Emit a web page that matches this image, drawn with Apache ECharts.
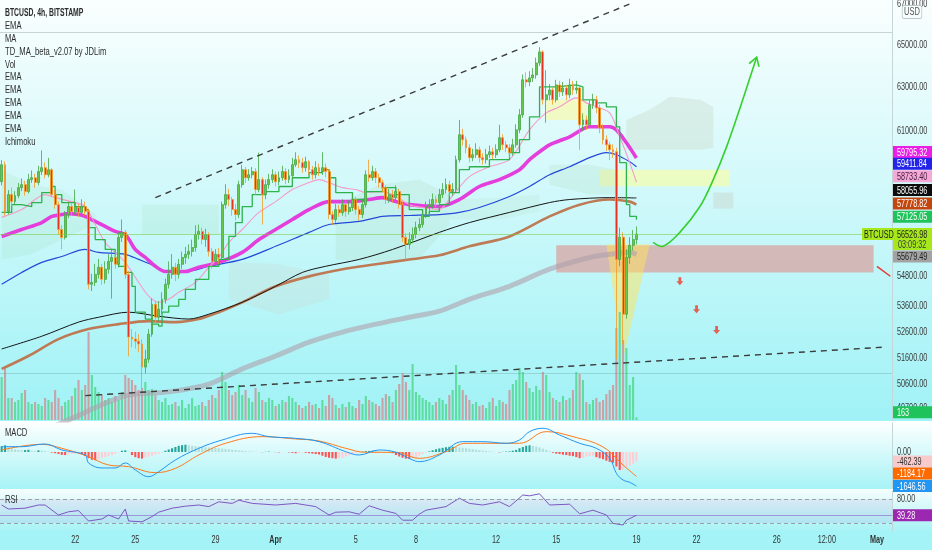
<!DOCTYPE html>
<html><head><meta charset="utf-8">
<script src="https://cdn.jsdelivr.net/npm/echarts@6/dist/echarts.min.js"></script>
<style>html,body{margin:0;padding:0;background:#a4f3f6;overflow:hidden}#c{width:932px;height:550px}</style>
</head><body><div id="c"></div>
<script>
const FONT = "'Liberation Sans',Arial,sans-serif";
const SLOTS = 267;
const timeLabels = {22:'22',40:'25',64:'29',82:'Apr',106:'5',124:'8',148:'12',166:'15',190:'19',208:'22',232:'26',247:'12:00',262:'May'};
const firstOpen = 58760;
const closes = [59500,57480,58200,57900,58160,58500,58630,58330,58850,58930,
58720,59200,59370,59060,59280,58200,57770,56720,56390,57350,
57690,57480,57650,57440,57690,57480,54470,54550,54870,55160,
54670,55080,55400,55560,55280,56390,56600,54870,52390,52310,
52230,52120,51240,51540,52500,53670,53160,53480,53870,54470,
54870,55160,54870,55280,55560,55690,55810,55970,56510,56640,
56300,56510,55810,55400,55690,55560,57770,58200,57990,57560,
57350,58630,59280,58930,59060,59200,58420,58850,58200,58630,
58850,59060,58760,58930,59200,58850,59020,59500,59720,59590,
59370,59630,59280,59060,59370,59200,59370,59200,57350,57140,
57560,57430,57770,57480,57650,57990,57560,57350,57770,59060,
58930,59200,58930,58720,58500,57990,58200,58070,58330,57770,
56390,56100,56300,56510,56800,56930,57350,57690,57770,57990,
57860,58200,58420,58630,58330,58420,59720,60830,60610,60250,
59810,59940,60160,59810,59720,59940,60070,59940,60160,60700,
60380,60250,60030,60380,61050,61730,63350,63250,63440,63580,
64140,64670,62420,62650,62880,62420,63110,62790,62970,62650,
63110,62880,62970,61280,61500,61280,62190,62420,62050,61140,
60610,60380,60160,60070,55480,56400,53280,55560,56060,56300,
56526.98];
const highs = [59700,59650,58400,58500,58350,58700,58900,58800,59100,59250,
59100,59450,60130,59600,59800,59350,58400,57900,56900,57500,
57900,57850,58420,57800,58000,57900,57600,54900,55300,55500,
55300,55400,55700,55900,55800,56600,57140,56700,55000,52700,
52600,52500,52300,51900,52700,53900,53800,53800,54150,54700,
55400,55700,55350,55500,55800,56000,56100,56300,56900,56930,
56800,56750,56600,55950,55900,55950,57900,58650,58450,58100,
57800,58800,59500,59400,59300,59400,59350,60030,58950,58850,
59100,59300,59200,59200,59450,59350,59300,59800,60050,59900,
59800,59850,59700,59450,59650,59550,60050,59550,59300,57500,
57800,57750,58000,57900,57950,58200,58100,57700,58000,59250,
59720,59450,59350,59100,58850,58600,58450,58400,58600,58450,
57900,56550,56600,56800,57050,57200,57550,57900,58000,58250,
58150,58450,58700,58900,58800,58700,59900,61500,61100,60750,
60400,60200,60450,60300,60000,60200,60350,60250,60400,61280,
60850,60550,60400,60650,61300,62000,63600,63700,63750,63900,
64400,64895,64750,63800,63150,63000,63350,63300,63250,63100,
63400,63300,63300,63050,61800,61700,62400,62700,62600,62200,
61300,60800,60500,60400,60250,56800,56600,55900,56400,56700,
56850];
const lows = [58600,57300,57350,57700,57750,58050,58350,58150,58250,58700,
58500,58600,59050,58900,58950,58100,57600,56500,55890,56300,
57200,57300,57350,57250,57300,57300,54270,54200,54400,54700,
54450,54500,54900,53900,55100,55150,56200,54700,51650,52000,
51950,51800,50450,51000,51400,52400,52900,53000,53300,53700,
54300,54700,54600,54700,55100,55300,55500,55600,55800,56300,
56100,56000,55600,55100,55200,55300,55450,57600,57700,57300,
57100,57200,58500,58700,58800,58900,58200,58300,56930,58000,
58450,58700,58550,58600,58800,58650,58700,58900,59400,59350,
59150,59200,59050,58850,58900,59000,59050,58950,57150,56900,
57000,57250,57300,57250,57350,57500,57350,57100,57200,57650,
58750,58800,58700,58500,58300,57800,57850,57850,57950,57600,
56200,55480,55900,56150,56350,56650,56800,57200,57500,57600,
57650,57700,58050,58250,58150,58150,58300,59600,60350,60000,
59600,59650,59800,59600,59500,59550,59800,59750,59800,60050,
60150,60050,59800,59900,60250,60900,61600,63000,63050,63250,
63400,64000,62200,61370,62400,62200,62300,62550,62600,62400,
62500,62650,62700,60160,61000,61050,61150,62000,61800,60900,
60400,60100,59700,59800,51550,55200,52100,53100,55300,55850,
56100];
const volumes = [2580,3120,1320,1320,1080,1200,1620,1800,1080,960,
1080,960,840,1320,1200,1080,1800,1320,840,1080,
1200,1440,1920,2400,1800,2100,5280,2700,1980,1680,
1500,1200,1320,1080,1440,1200,1680,2700,2520,2400,
2100,1800,1920,2280,1800,1860,1500,1200,1080,1320,
900,960,1080,840,1200,720,960,1320,840,900,
1080,840,1200,1500,1320,1800,2880,2280,1800,1500,
1680,2100,1500,1800,1320,1080,1920,1680,1200,1080,
1320,1200,840,960,1200,1080,1440,1320,1080,900,
720,840,1080,900,960,720,1200,840,1500,1320,
900,720,960,780,1080,840,720,1200,960,1440,
1200,1080,960,840,1320,1560,1440,1080,1800,2160,
2820,2280,1800,3360,1680,1500,1320,1200,1080,900,
1080,1320,1200,960,1500,1800,3300,2100,1800,1500,
1200,960,1080,840,900,720,1080,1320,840,1200,
1080,960,1800,2160,2400,3120,2880,2280,1920,1680,
2040,1800,2880,2700,1680,1320,1200,1080,1440,1200,
1320,1800,2880,2760,2400,1080,960,1200,1320,1080,
1200,1560,1800,2100,5520,6480,4800,4320,2100,2580,
163];
const macdHist = [280,320,250,180,
120,100,80,90,110,60,40,80,70,50,
20,-30,-60,-100,-140,-150,-120,-90,-80,-60,-100,
-200,-300,-380,-400,-350,-300,
-250,-200,-150,-80,-20,60,
80,20,
-150,-250,-300,-320,-280,
-230,-180,-130,-80,-30,
60,120,180,240,300,330,350,330,300,280,
260,240,230,220,200,190,180,170,150,130,110,100,80,60,40,30,
20,10,0,-10,10,20,10,-10,-20,-10,0,-20,
-40,-60,-50,-30,-40,-60,-80,-100,-120,
-180,-240,-280,-300,-320,-300,-280,
-220,-160,-110,-60,-20,
20,40,50,60,40,20,10,
0,-20,-60,
-150,-220,-280,-320,-330,-300,-260,
-180,-100,-40,
30,80,130,170,200,230,250,260,240,220,
200,180,160,140,110,90,70,50,
30,20,0,-20,10,20,30,60,100,
180,240,300,320,300,260,220,
160,100,40,
-40,-80,-100,-130,-150,-180,-200,
-250,-300,-280,-230,-200,-180,
-250,-300,-350,-420,-480,-520,
-700,-870,-850,
-750,-650,-560,-462.39];
const macdLine = [[0,256],[6,256],[13,386],[18,97],[25,-145],[26,-531],[30,-773],[34,-773],[37,-531],[40,-870],[44,-1192],[47,-950],[52,-386],[59,177],[66,580],[75,902],[80,741],[88,660],[95,500],[103,16],[107,-145],[113,97],[118,-16],[123,-386],[125,-467],[131,-145],[138,500],[144,500],[151,419],[155,580],[158,983],[162,1145],[167,821],[173,419],[178,177],[182,-306],[184,-1031],[186,-1353],[188,-1466],[190,-1646.56]];
const signalLine = [[0,97],[12,370],[18,177],[26,-225],[32,-628],[38,-708],[46,-998],[52,-789],[59,-145],[67,419],[78,741],[88,628],[95,531],[103,177],[109,-16],[118,-16],[125,-306],[133,16],[139,419],[155,419],[163,983],[171,741],[180,242],[186,-628],[190,-1184.17]];
const rsiLine = [[0,65],[2,55],[7,57],[11,65],[13,65],[17,40],[20,48],[23,51],[26,25],[30,30],[32,40],[35,30],[37,55],[38,25],[42,23],[45,36],[47,47],[51,57],[55,62],[59,65],[62,61],[65,73],[69,69],[71,77],[75,69],[82,65],[88,69],[94,61],[98,40],[100,47],[104,48],[107,42],[110,63],[114,52],[118,44],[120,27],[123,27],[125,42],[127,52],[133,61],[137,82],[140,69],[144,65],[149,73],[152,61],[156,90],[158,88],[161,93],[164,65],[170,67],[173,43],[177,52],[181,40],[183,19],[186,15],[187,27],[190,39.28]];
const emaMagenta = [[0,56430],[6,56720],[12,57010],[15,57270],[18,57350],[20,57390],[23,57350],[25,57270],[28,57060],[31,56850],[34,56640],[37,56510],[40,55890],[43,55560],[46,55200],[49,54990],[55,54990],[59,55160],[65,55360],[72,55770],[77,56300],[82,56720],[87,57140],[92,57560],[98,57900],[104,57900],[110,57990],[114,58070],[118,57900],[122,57770],[131,57690],[137,57990],[143,58550],[149,58850],[155,59280],[158,59720],[161,60070],[164,60380],[170,60740],[176,61190],[182,61190],[184,61050],[187,60470],[190,59795.32]];
const emaBlue = [[0,54470],[6,54950],[12,55360],[18,55600],[25,55890],[29,55770],[37,55690],[41,55480],[46,55200],[49,54990],[55,54990],[62,55200],[72,55480],[82,56020],[92,56600],[98,56930],[107,57060],[114,57270],[122,57310],[131,57350],[137,57440],[143,57650],[152,58120],[158,58550],[164,59060],[170,59410],[176,59810],[181,60030],[184,59940],[188,59630],[190,59411.84]];
const emaPink = [[0,57230],[6,57560],[13,58200],[16,58070],[22,57860],[25,57690],[28,56930],[31,56180],[34,55770],[37,55360],[41,54550],[44,54000],[47,53750],[50,53870],[53,54150],[58,54550],[62,55160],[65,55560],[68,56180],[72,56720],[77,57440],[82,57900],[87,58420],[92,58720],[95,58850],[98,58720],[102,58500],[106,58420],[109,58290],[114,58330],[118,58120],[122,57770],[126,57650],[131,57560],[134,57990],[140,58980],[146,59410],[152,59720],[158,61050],[163,61820],[167,62100],[172,62510],[175,62280],[178,62100],[182,61820],[185,60740],[188,59590],[190,58733.40]];
const tenkan = [[0,57440],[3,57770],[6,57690],[9,57860],[12,58290],[15,58550],[16,58200],[18,57860],[22,57690],[25,57560],[26,56800],[28,56300],[31,55890],[34,55360],[35,55200],[37,54950],[39,54390],[40,53360],[43,53090],[45,52890],[47,52810],[48,53360],[50,53600],[53,53870],[55,54270],[58,54670],[62,55200],[65,55480],[68,56430],[70,57010],[72,57690],[75,58200],[79,58330],[83,58550],[87,58930],[92,59150],[96,59280],[98,58930],[100,58290],[105,57990],[109,58330],[114,58500],[118,58200],[122,57560],[126,57270],[128,57480],[131,57770],[134,58290],[137,59280],[140,59410],[146,59720],[152,60030],[155,60610],[158,61640],[161,63020],[166,63110],[172,63020],[174,62420],[178,62280],[181,62100],[184,61190],[185,59590],[187,57770],[188,57270],[190,57125.05]];
const ma200 = [[0,51930],[12,52420],[23,52970],[29,53160],[38,53360],[47,53200],[56,53090],[62,53280],[72,53750],[82,54390],[90,54950],[97,55200],[107,55480],[117,55890],[131,56600],[140,57010],[152,57440],[164,57860],[170,57990],[182,58070],[190,58055.96]];
const ema200 = [[0,51170],[8,51660],[17,52310],[26,52700],[35,52890],[44,53010],[52,52970],[59,53090],[65,53360],[72,53750],[82,54390],[92,54790],[102,55080],[112,55280],[122,55480],[131,55650],[140,56020],[152,56430],[164,57270],[173,57770],[182,57990],[188,57900],[190,57778.82]];
const emaGray = [[0,48200],[20,49280],[37,50160],[50,50310],[62,50600],[72,51170],[82,51660],[92,52190],[102,52580],[112,52890],[122,53160],[131,53400],[140,53870],[152,54390],[164,55080],[176,55560],[182,55690],[188,55770],[190,55679.49]];
// Ichimoku cloud bands: [slot, lower, upper]
const clouds = [
 [[0,55480,59280],[9,55690,58630],[18,56300,58420],[28,56930,57350]],
 [[42,56510,57770],[53,56510,57770],[65,56510,57770]],
 [[68,53870,55400],[83,53280,55280],[98,53870,54870]],
 [[100,55480,57770],[113,55400,58630],[125,55480,58850],[134,56930,58200]],
 [[134,57140,57990],[149,57140,58070],[161,57480,58200]],
 [[164,58630,59500],[176,58200,59500],[184,58200,59280]],
 [[187,60160,61500],[194,60160,61960],[200,60160,62560],[209,60160,62420],[213,60250,62100]],
 [[213,57600,58290],[219,57600,58290]]
];
const triangle = [[181,56100],[194,56100],[186,51550]];
const zones = [
 [[166,56060],[261,54950]],
 [[179,59280],[218,58560]],
 [[163,62420],[175,61500]]
];
const upperTrend = [[46,58070],[188,67000]];
const lowerTrend = [[25,50170],[264,52000]];
const redStroke = [[262,55200],[266,54795]];
const greenArrow = [[195,56180],[198,56020],[203,56600],[209,57690],[213,58850],[217,60300],[221,62050],[224,63460],[226,64420]];
const redArrows = [[203,54590],[208,53480],[214,52660]];
const hLines = [65627, 56526.98, 51018];
const priceTicks = [67000,65000,63000,61000,54800,53600,52600,51600,50600,49700];
const tagValues = [59795.32,59411.84,58733.40,58055.96,57778.82,57125.05,55679.49];
const tagStyles = [
 {bg:'#ea1fe6',fg:'#fff',dy:-6},{bg:'#2424e8',fg:'#fff',dy:-3},{bg:'#f6a9d9',fg:'#4a2040',dy:-6},
 {bg:'#0c0c0c',fg:'#fff',dy:-8},{bg:'#c2470f',fg:'#fff',dy:-1},{bg:'#1fc35b',fg:'#fff',dy:-3},
 {bg:'#a3a3a3',fg:'#222',dy:2}];
const lastPrice = 56526.98;
const countdown = '03:09:32';
const lastVolume = 163;
const macdTicks = [0];
const macdTags = [-462.39,-1184.17,-1646.56];
const macdTagStyles = [{bg:'#f9caca',fg:'#333',dy:0},{bg:'#ff6a00',fg:'#fff',dy:-3},{bg:'#2196f3',fg:'#fff',dy:0}];
const rsiTicks = [80];
const rsiLast = 39.28;
const legendLines = ['BTCUSD, 4h, BITSTAMP','EMA','MA','TD_MA_beta_v2.07 by JDLim','Vol','EMA','EMA','EMA','EMA','EMA','Ichimoku'];

const SX = 0.66; // horizontal text compression of the reference
const cats = Array.from({length: SLOTS}, (_, i) => String(i));
const candles = closes.map((c, i) => {
  const o = i ? closes[i-1] : firstOpen;
  return [o, c, lows[i], highs[i]];
});
const volData = volumes.map((v, i) => ({value: v, itemStyle: {color: candles[i][1] >= candles[i][0] ? '#5fdc9f' : '#c7a3a8'}}));
const histData = macdHist.map((v, i) => {
  const p = i ? macdHist[i-1] : v;
  const col = v >= 0 ? (v >= p ? '#26a69a' : '#b2dfdb') : (v <= p ? '#ff5252' : '#ffcdd2');
  return {value: v, itemStyle: {color: col}};
});
const fmt = v => v.toFixed(2);
const txt = (x, y, t, color, opts) => Object.assign({type: 'text', x: x, y: y, scaleX: SX, style: {text: t, fill: color, font: '11px ' + FONT, verticalAlign: 'middle', align: 'left'}}, opts || {});
const box = (x, y, w, h, fill) => ({type: 'rect', shape: {x: x, y: y, width: w, height: h}, style: {fill: fill}});

function tagEls(api, cs, v, text, bg, fg, dy) {
  const xr = cs.x + cs.width;
  const y = api.coord([0, v])[1] + dy;
  return [box(xr + 1, y - 6, 40, 12, bg), txt(xr + 5, y + 0.5, text, fg)];
}
function tickEls(api, cs, v) {
  const xr = cs.x + cs.width;
  return [txt(xr + 5, api.coord([0, v])[1], fmt(v), '#3a3a3a')];
}

const grids = [
  {left: 0, top: 0, width: 892, height: 420},
  {left: 0, top: 300, width: 892, height: 120},
  {left: 0, top: 423, width: 892, height: 65},
  {left: 0, top: 491, width: 892, height: 40}
];
const xAxes = grids.map((g, k) => ({
  type: 'category', gridIndex: k, data: cats, boundaryGap: true,
  axisLine: {show: false}, axisTick: {show: false}, splitLine: {show: false}, axisLabel: {show: false}
}));
const axLine = {show: true, lineStyle: {color: '#c4d6d8', width: 1}};
const yAxes = [
  {type: 'log', logBase: 10, gridIndex: 0, position: 'right', min: 49276, max: 67196, axisLabel: {show: false}, axisTick: {show: false}, splitLine: {show: false}, axisLine: axLine},
  {type: 'value', gridIndex: 1, min: 0, max: 7200, show: false},
  {type: 'value', gridIndex: 2, position: 'right', min: -1740, max: 1400, axisLabel: {show: false}, axisTick: {show: false}, splitLine: {show: false}, axisLine: axLine},
  {type: 'value', gridIndex: 3, position: 'right', min: 0, max: 100, axisLabel: {show: false}, axisTick: {show: false}, splitLine: {show: false}, axisLine: axLine}
];

function lineSeries(data, color, width, z, extra) {
  return Object.assign({type: 'line', xAxisIndex: 0, yAxisIndex: 0, data: data, showSymbol: false, symbol: 'none', smooth: 0.3, z: z, lineStyle: {color: color, width: width}, silent: true}, extra || {});
}
const bgGrad = (a, b) => new echarts.graphic.LinearGradient(0, 0, 0, 1, [{offset: 0, color: a}, {offset: 1, color: b}]);

const option = {
  animation: false,
  backgroundColor: '#a4f3f6',
  textStyle: {fontFamily: FONT},
  grid: grids,
  xAxis: xAxes,
  yAxis: yAxes,
  graphic: {elements: [
    {type: 'rect', z: -10, silent: true, shape: {x: 0, y: 0, width: 932, height: 421}, style: {fill: bgGrad('#fafefe', '#9ff2f6')}},
    {type: 'rect', z: -10, silent: true, shape: {x: 0, y: 421, width: 932, height: 68}, style: {fill: bgGrad('#ffffff', '#a6f3f6')}},
    {type: 'rect', z: -10, silent: true, shape: {x: 0, y: 489, width: 932, height: 42}, style: {fill: bgGrad('#f6fdfd', '#a6f3f6')}},
    {type: 'rect', z: -10, silent: true, shape: {x: 0, y: 531, width: 932, height: 19}, style: {fill: '#a4f3f6'}},
    ...legendLines.map((t, i) => ({type: 'text', z: 50, silent: true, x: 5, y: 12.7 + i * 12.95, scaleX: i === 0 ? 0.62 : 0.69, style: {text: t, fill: '#2c2c2c', font: (i === 0 ? 'bold ' : '') + '11px ' + FONT, verticalAlign: 'middle'}})),
    {type: 'text', z: 50, silent: true, x: 5, y: 433, scaleX: 0.69, style: {text: 'MACD', fill: '#2c2c2c', font: '11px ' + FONT, verticalAlign: 'middle'}},
    {type: 'text', z: 50, silent: true, x: 5, y: 500, scaleX: 0.69, style: {text: 'RSI', fill: '#2c2c2c', font: '11px ' + FONT, verticalAlign: 'middle'}},
    {type: 'text', z: 50, silent: true, x: 912, y: 12, scaleX: 0.75, style: {text: 'USD', fill: '#555', font: '10px ' + FONT, align: 'center', verticalAlign: 'middle', backgroundColor: '#f7fdfd', borderColor: '#b9c9c9', borderWidth: 1, borderRadius: 2, padding: [1, 2]}}
  ]},
  series: [
    {type: 'custom', xAxisIndex: 0, yAxisIndex: 0, z: 1, silent: true, data: [[0, 56000]],
      renderItem: (params, api) => {
        const cols = ['rgba(150,215,165,0.16)','rgba(150,215,165,0.16)','rgba(200,220,210,0.3)','rgba(170,215,180,0.2)','rgba(170,215,180,0.14)','rgba(170,215,180,0.2)','rgba(205,225,212,0.5)','rgba(200,212,205,0.45)'];
        const ch = clouds.map((c, k) => {
          const up = c.map(p => api.coord([p[0], p[2]]));
          const lo = c.map(p => api.coord([p[0], p[1]])).reverse();
          return {type: 'polygon', shape: {points: up.concat(lo)}, style: {fill: cols[k]}};
        });
        ch.push({type: 'polygon', shape: {points: triangle.map(p => api.coord(p))}, style: {fill: 'rgba(255,228,90,0.5)'}});
        return {type: 'group', children: ch};
      }},
    {type: 'bar', xAxisIndex: 1, yAxisIndex: 1, data: volData, barWidth: 2.1, z: 1, silent: true},
    lineSeries(emaGray, 'rgba(175,160,172,0.6)', 5, 2, {
      markArea: {silent: true, data: [
        [{coord: zones[0][0], itemStyle: {color: 'rgba(215,168,165,0.78)'}}, {coord: zones[0][1]}],
        [{coord: zones[1][0], itemStyle: {color: 'rgba(255,255,150,0.55)'}}, {coord: zones[1][1]}],
        [{coord: zones[2][0], itemStyle: {color: 'rgba(255,250,150,0.55)'}}, {coord: zones[2][1]}]
      ]}}),
    lineSeries(ema200, '#bd7a55', 2.6, 3),
    lineSeries(ma200, '#151515', 1, 3),
    lineSeries(emaBlue, '#2448d8', 1.2, 3),
    lineSeries(emaMagenta, '#e43fdc', 3.6, 3),
    lineSeries(emaPink, '#f59cc8', 1.1, 3),
    lineSeries(tenkan, '#2eb34c', 1.3, 3, {smooth: false, step: 'end'}),
    {type: 'candlestick', xAxisIndex: 0, yAxisIndex: 0, data: candles, barWidth: 2.4, z: 4, silent: true,
      itemStyle: {color: '#66c84a', color0: '#e8321e', borderColor: '#45a845', borderColor0: '#f59a23', borderWidth: 0.8},
      markLine: {silent: true, symbol: ['none', 'none'], label: {show: false}, data: [
        {yAxis: hLines[0], lineStyle: {color: 'rgba(150,165,165,0.45)', width: 1, type: 'solid'}},
        {yAxis: hLines[1], lineStyle: {color: 'rgba(120,205,60,0.55)', width: 1, type: 'solid'}},
        {yAxis: hLines[2], lineStyle: {color: 'rgba(100,160,150,0.35)', width: 1, type: 'solid'}},
        [{coord: upperTrend[0], lineStyle: {color: '#3c3c3c', width: 1.4, type: [6, 5]}}, {coord: upperTrend[1]}],
        [{coord: lowerTrend[0], lineStyle: {color: '#3c3c3c', width: 1.4, type: [6, 5]}}, {coord: lowerTrend[1]}],
        [{coord: redStroke[0], lineStyle: {color: '#e53935', width: 1.5, type: 'solid'}}, {coord: redStroke[1]}]
      ]}},
    {type: 'custom', xAxisIndex: 0, yAxisIndex: 0, z: 6, silent: true, data: [[0, 56000]],
      renderItem: (params, api) => {
        const pts = greenArrow.map(p => api.coord(p));
        const n = pts.length, tip = pts[n - 1], prev = pts[n - 2];
        const ang = Math.atan2(tip[1] - prev[1], tip[0] - prev[0]);
        const L = 10, a = 0.55;
        const p1 = [tip[0] - L * Math.cos(ang - a), tip[1] - L * Math.sin(ang - a)];
        const p2 = [tip[0] - L * Math.cos(ang + a), tip[1] - L * Math.sin(ang + a)];
        return {type: 'group', children: [
          {type: 'polyline', shape: {points: pts, smooth: 0.35}, style: {stroke: '#36d02c', lineWidth: 1.6, fill: null}},
          {type: 'polyline', shape: {points: [p1, tip, p2]}, style: {stroke: '#36d02c', lineWidth: 1.6, fill: null}}
        ]};
      }},
    {type: 'scatter', xAxisIndex: 0, yAxisIndex: 0, z: 6, silent: true, data: redArrows,
      symbol: 'path://M3,0 L7,0 L7,5 L10,5 L5,10 L0,5 L3,5 Z', symbolSize: [7, 8], itemStyle: {color: '#ee3b2b'}},
    // price scale: tick labels and value tags
    {type: 'custom', xAxisIndex: 0, yAxisIndex: 0, z: 10, silent: true, data: [[0, 56000]],
      renderItem: (params, api) => {
        const cs = params.coordSys, xr = cs.x + cs.width;
        let ch = [];
        priceTicks.forEach(v => { ch = ch.concat(tickEls(api, cs, v)); });
        tagValues.forEach((v, i) => { ch = ch.concat(tagEls(api, cs, v, fmt(v), tagStyles[i].bg, tagStyles[i].fg, tagStyles[i].dy)); });
        const y0 = api.coord([0, lastPrice])[1];
        ch.push(box(xr - 30, y0 - 6, 71, 12, '#a6e81c'));
        ch.push(txt(xr - 28, y0 + 0.5, 'BTCUSD', '#1c1c1c'));
        ch.push(txt(xr + 5, y0 + 0.5, fmt(lastPrice), '#1c1c1c'));
        ch.push(box(xr + 1, y0 + 5, 40, 11, '#a6e81c'));
        ch.push(txt(xr + 6, y0 + 10.5, countdown, '#3a3a3a'));
        return {type: 'group', children: ch};
      }},
    {type: 'custom', xAxisIndex: 1, yAxisIndex: 1, z: 11, silent: true, data: [[0, 100]],
      renderItem: (params, api) => ({type: 'group', children: tagEls(api, params.coordSys, lastVolume, String(lastVolume), '#1fc35b', '#fff', -5)})},
    {type: 'bar', xAxisIndex: 2, yAxisIndex: 2, data: histData, barWidth: 2.1, z: 2, silent: true},
    {type: 'line', xAxisIndex: 2, yAxisIndex: 2, data: signalLine, showSymbol: false, symbol: 'none', smooth: 0.4, z: 3, silent: true, lineStyle: {color: '#ff7a1a', width: 1}},
    {type: 'line', xAxisIndex: 2, yAxisIndex: 2, data: macdLine, showSymbol: false, symbol: 'none', smooth: 0.4, z: 3, silent: true, lineStyle: {color: '#2196f3', width: 1}},
    {type: 'custom', xAxisIndex: 2, yAxisIndex: 2, z: 10, silent: true, data: [[0, 0]],
      renderItem: (params, api) => {
        let ch = [];
        macdTicks.forEach(v => { ch = ch.concat(tickEls(api, params.coordSys, v)); });
        macdTags.forEach((v, i) => { ch = ch.concat(tagEls(api, params.coordSys, v, fmt(v), macdTagStyles[i].bg, macdTagStyles[i].fg, macdTagStyles[i].dy)); });
        return {type: 'group', children: ch};
      }},
    {type: 'line', xAxisIndex: 3, yAxisIndex: 3, data: rsiLine, showSymbol: false, symbol: 'none', z: 3, silent: true, lineStyle: {color: '#7e57c2', width: 1},
      markArea: {silent: true, data: [[{yAxis: 80, itemStyle: {color: 'rgba(126,87,194,0.1)'}}, {yAxis: 20}]]},
      markLine: {silent: true, symbol: ['none', 'none'], label: {show: false}, data: [
        {yAxis: 80, lineStyle: {color: '#9aa2a8', width: 1, type: [4, 3]}},
        {yAxis: 20, lineStyle: {color: '#9aa2a8', width: 1, type: [4, 3]}},
        {yAxis: rsiLast, lineStyle: {color: 'rgba(126,87,194,0.55)', width: 1, type: 'solid'}}
      ]}},
    {type: 'custom', xAxisIndex: 3, yAxisIndex: 3, z: 10, silent: true, data: [[0, 50]],
      renderItem: (params, api) => {
        const cs = params.coordSys;
        let ch = [];
        rsiTicks.forEach(v => { ch = ch.concat(tickEls(api, cs, v)); });
        ch = ch.concat(tagEls(api, cs, rsiLast, fmt(rsiLast), '#9c27b0', '#fff', 0));
        Object.keys(timeLabels).forEach(k => {
          const t = timeLabels[k];
          const x = api.coord([Number(k), 0])[0];
          const bold = (t === 'Apr' || t === 'May');
          ch.push({type: 'text', x: x, y: cs.y + cs.height + 9, scaleX: SX, style: {text: t, fill: '#333', font: (bold ? 'bold ' : '') + '11px ' + FONT, align: 'center', verticalAlign: 'middle'}});
        });
        return {type: 'group', children: ch};
      }}
  ]
};
const chart = echarts.init(document.getElementById('c'), null, {renderer: 'canvas'});
chart.setOption(option);
</script></body></html>
